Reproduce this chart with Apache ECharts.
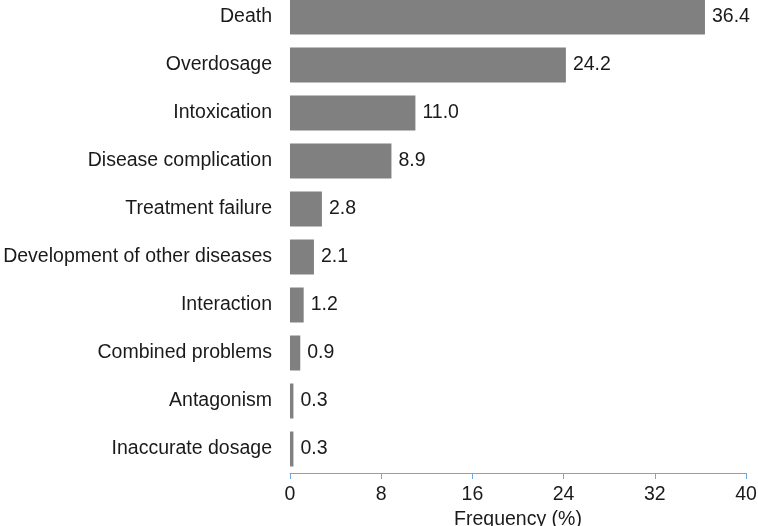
<!DOCTYPE html>
<html>
<head>
<meta charset="utf-8">
<script src="https://cdn.jsdelivr.net/npm/echarts@6/dist/echarts.min.js"></script>
<style>html,body{margin:0;padding:0;background:#fff}#c{width:758px;height:526px}</style>
</head>
<body>
<div id="c"></div>
<script>
const categories = ["Death", "Overdosage", "Intoxication", "Disease complication", "Treatment failure", "Development of other diseases", "Interaction", "Combined problems", "Antagonism", "Inaccurate dosage"];
const values = [36.4, 24.2, 11.0, 8.9, 2.8, 2.1, 1.2, 0.9, 0.3, 0.3];
const xTicks = [0, 8, 16, 24, 32, 40];

const chart = echarts.init(document.getElementById('c'), null, {renderer: 'canvas'});
const font = '"Liberation Sans", Arial, sans-serif';
chart.setOption({
  animation: false,
  textStyle: {fontFamily: font},
  grid: {left: 290, right: 12, top: -7, bottom: 53, containLabel: false, outerBoundsMode: 'none'},
  xAxis: {
    type: 'value', min: xTicks[0], max: xTicks[xTicks.length - 1], interval: 8,
    name: 'Frequency (%)', nameLocation: 'middle', nameGap: 34,
    nameTextStyle: {fontSize: 19.5, color: '#1a1a1a', fontFamily: font},
    axisLine: {show: true, lineStyle: {color: '#6fa8dc', width: 1}},
    axisTick: {show: true, length: 6, lineStyle: {color: '#6fa8dc'}},
    axisLabel: {fontSize: 19.5, color: '#1a1a1a', margin: 12, fontFamily: font},
    splitLine: {show: false}
  },
  yAxis: {
    type: 'category', data: categories, inverse: true,
    axisLine: {show: false}, axisTick: {show: false},
    axisLabel: {fontSize: 19.5, color: '#1a1a1a', margin: 18, fontFamily: font}
  },
  series: [{
    type: 'bar', data: values, barWidth: 35,
    itemStyle: {color: '#808080'},
    label: {show: true, position: 'right', distance: 7, fontSize: 19.5, color: '#1a1a1a', fontFamily: font,
      formatter: p => p.value.toFixed(1)}
  }]
});
</script>
</body>
</html>
